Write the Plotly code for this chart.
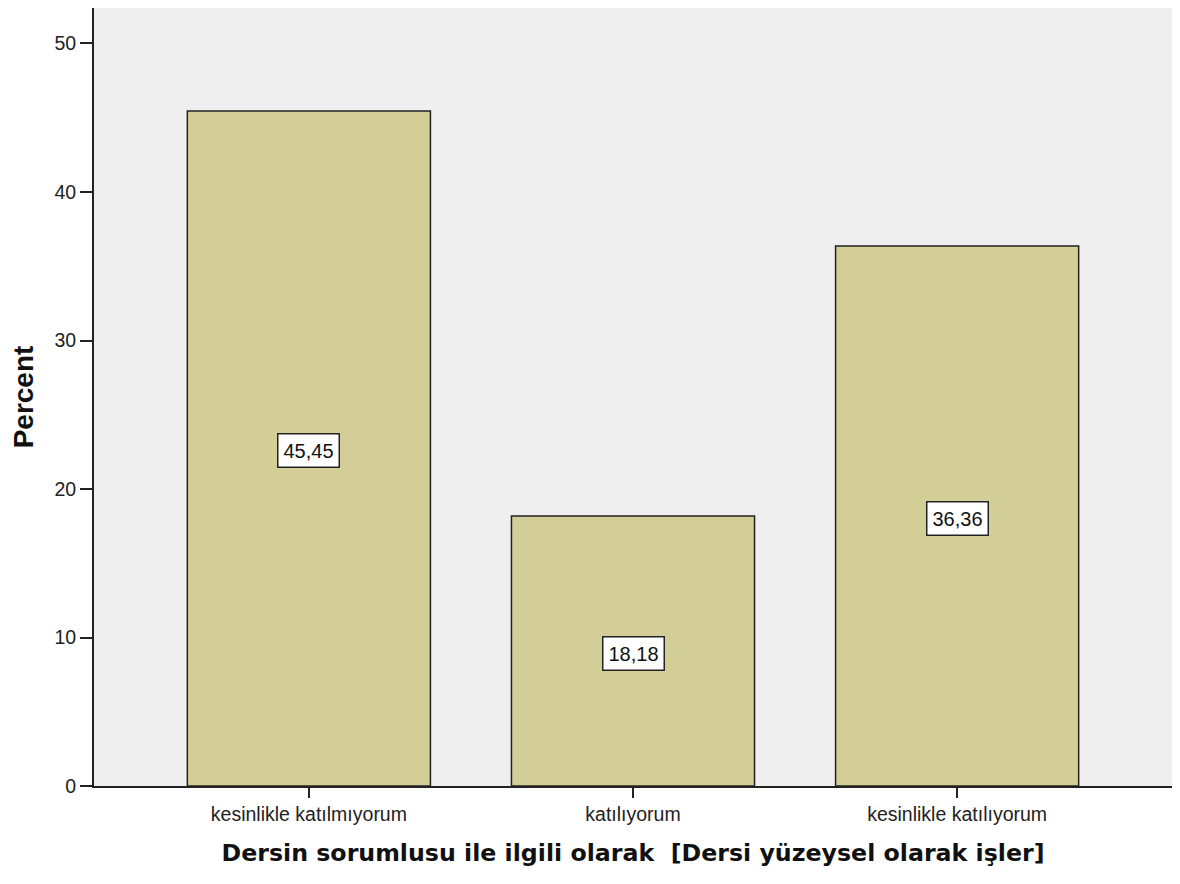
import plotly.graph_objects as go

categories = ["kesinlikle katılmıyorum", "katılıyorum", "kesinlikle katılıyorum"]
percents = [45.45, 18.18, 36.36]
labels = ["45,45", "18,18", "36,36"]
y_ticks = [0, 10, 20, 30, 40, 50]

fig = go.Figure()
fig.add_trace(go.Bar(
    x=categories, y=percents, width=0.75,
    marker=dict(color="#D3CE97", line=dict(color="#222222", width=1.5)),
    hoverinfo="skip",
))
for c, v, t in zip(categories, percents, labels):
    fig.add_annotation(
        x=c, y=v / 2, text=t, showarrow=False, yshift=-2,
        font=dict(family="Liberation Sans, Arial", size=20, color="#111111"),
        bgcolor="white", bordercolor="#222222", borderwidth=1.5, borderpad=5,
    )

fig.update_layout(
    width=1180, height=884,
    margin=dict(l=86, r=16, t=0, b=106),
    paper_bgcolor="white", plot_bgcolor="#EFEFEF",
    showlegend=False,
    font=dict(family="Liberation Sans, Arial", color="#222222"),
)
fig.update_xaxes(
    range=[-0.663, 2.663], showgrid=False, zeroline=False, automargin=False,
    showline=True, linecolor="#222222", linewidth=2, mirror=True,
    ticks="outside", ticklen=10, tickwidth=1.5, tickcolor="#222222",
    tickfont=dict(family="Liberation Sans, Arial", size=19.5, color="#222222"),
    title=dict(text="Dersin sorumlusu ile ilgili olarak  [Dersi yüzeysel olarak işler]",
               font=dict(family="DejaVu Sans", size=23.7, color="#111111", weight="bold"),
               standoff=20),
)
fig.update_yaxes(
    range=[0, 52.39], showgrid=False, zeroline=False, automargin=False,
    showline=True, linecolor="#222222", linewidth=2, mirror=True,
    tickvals=y_ticks, ticks="outside", ticklen=12, tickwidth=1.5, tickcolor="#222222",
    tickfont=dict(family="Liberation Sans, Arial", size=19.5, color="#222222"),
    title=dict(text="Percent",
               font=dict(family="Liberation Sans, Arial", size=28, color="#111111", weight="bold"),
               standoff=13),
)
fig.write_html("out.html")
